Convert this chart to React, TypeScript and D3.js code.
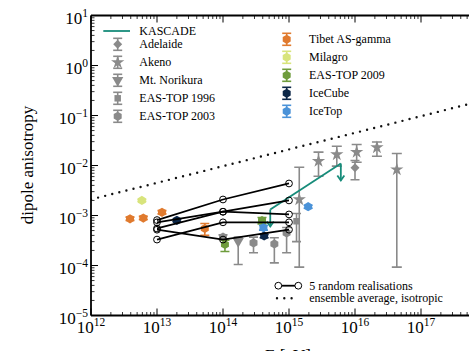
import React from "react";
import * as d3 from "d3";

const W = 469, H = 351;

// Data
const xTicks = [1e12, 1e13, 1e14, 1e15, 1e16, 1e17];
const yTicks = [1e-5, 1e-4, 1e-3, 1e-2, 1e-1, 1e0, 1e1];

const isoE = [1e12, 1e13, 1e14, 1e15, 1e16, 1e17, 1e18];
const isoV = [2.1e-3, 4.5e-3, 9.7e-3, 2.1e-2, 4.5e-2, 9.7e-2, 0.21];

const realE = [1e13, 1e14, 1e15];
const realisations = [
  [8.1e-4, 2.09e-3, 4.37e-3],
  [7.3e-4, 1.19e-3, 2.0e-3],
  [5.5e-4, 1.19e-3, 1.05e-3],
  [5.2e-4, 3.3e-4, 5.2e-4],
  [3.3e-4, 7.3e-4, 7.3e-4],
];

const kascadeE = [5.2e14, 6.1e15];
const kascadeV = [1.32e-3, 1.1e-2];

// [E, value, low, high]
const adelaide = [[1e16, 9.0e-3, 5.2e-3, 1.26e-2]];
const akeno = [
  [1.43e15, 2.09e-3, 9.3e-5, 9.2e-3],
  [2.8e15, 1.22e-2, 6.1e-3, 1.85e-2],
  [5.3e15, 1.66e-2, 9.7e-3, 2.43e-2],
  [1.06e16, 1.85e-2, 1.16e-2, 2.63e-2],
  [2.15e16, 2.29e-2, 1.53e-2, 2.95e-2],
  [4.3e16, 8.3e-3, 9.3e-5, 1.74e-2],
];
const norikura = [[1.7e14, 3.06e-4, 1.05e-4, 3.7e-4]];
const eastop1996 = [[1.3e15, 7.7e-4, 3.0e-4, 1.1e-3]];
const eastop2003 = [
  [1e14, 3.7e-4, 3.3e-4, 4.1e-4],
  [2.9e14, 2.84e-4, 1.8e-4, 3.7e-4],
  [6.0e14, 2.7e-4, 1.13e-4, 3.6e-4],
  [9.2e14, 4.5e-4, 1.8e-4, 5.75e-4],
];
const tibet = [
  [3.9e12, 8.6e-4, 8.0e-4, 9.3e-4],
  [6.2e12, 8.9e-4, 8.3e-4, 9.6e-4],
  [1.19e13, 1.16e-3, 1.08e-3, 1.25e-3],
  [5.3e13, 5.5e-4, 4.0e-4, 6.9e-4],
];
const milagro = [[5.9e12, 2.0e-3, 1.9e-3, 2.1e-3]];
const eastop2009 = [
  [1.07e14, 2.63e-4, 1.9e-4, 3.2e-4],
  [3.9e14, 7.9e-4, 6.8e-4, 9.1e-4],
];
const icecube = [
  [2e13, 8.0e-4, 7.6e-4, 8.4e-4],
  [4.2e14, 3.9e-4, 3.6e-4, 4.2e-4],
];
const icetop = [
  [4.1e14, 5.7e-4, 5.1e-4, 6.3e-4],
  [1.95e15, 1.5e-3, 1.4e-3, 1.6e-3],
];

const leftLegend = ["KASCADE", "Adelaide", "Akeno", "Mt. Norikura", "EAS-TOP 1996", "EAS-TOP 2003"];
const rightLegend = ["Tibet AS-gamma", "Milagro", "EAS-TOP 2009", "IceCube", "IceTop"];

const GRAY = "#8a8a8a";
const TEAL = "#178c7a";
const C_TIBET = "#e07a2e";
const C_MILAGRO = "#d8e47c";
const C_EAS09 = "#6e9c3c";
const C_ICECUBE = "#0c2748";
const C_ICETOP = "#4a92d8";
const FONT = "'Liberation Serif', 'Times New Roman', serif";

const x = d3.scaleLog().domain([1e12, 1e18]).range([91, 487]);
const y = d3.scaleLog().domain([1e-5, 1e1]).range([315.5, 15.5]);

function hexPath(r: number) {
  const pts = d3.range(6).map((i) => {
    const a = (Math.PI / 3) * i + Math.PI / 6;
    return [r * Math.cos(a), r * Math.sin(a)] as [number, number];
  });
  return "M" + pts.map((p) => p.join(",")).join("L") + "Z";
}

type Shape = "star" | "diamond" | "tri" | "square" | "hex" | "circle";

function Marker({ shape, color, cx, cy }: { shape: Shape; color: string; cx: number; cy: number }) {
  let d = "";
  let rot = 0;
  if (shape === "star") d = d3.symbol(d3.symbolStar, 55)() as string;
  else if (shape === "diamond") { d = d3.symbol(d3.symbolSquare, 40)() as string; rot = 45; }
  else if (shape === "tri") { d = d3.symbol(d3.symbolTriangle, 55)() as string; rot = 180; }
  else if (shape === "square") d = d3.symbol(d3.symbolSquare, 42)() as string;
  else if (shape === "hex") d = hexPath(4.6);
  else d = d3.symbol(d3.symbolCircle, 50)() as string;
  return <path d={d} fill={color} transform={`translate(${cx},${cy}) rotate(${rot})`} />;
}

function ErrSeries({ data, shape, color, cap = 4.5 }: { data: number[][]; shape: Shape; color: string; cap?: number }) {
  return (
    <g>
      {data.map((p, i) => {
        const cx = x(p[0]);
        const y0 = y(p[2]);
        const y1 = y(p[3]);
        return (
          <g key={i}>
            <line x1={cx} x2={cx} y1={y0} y2={y1} stroke={color} strokeWidth={1.6} />
            <line x1={cx - cap} x2={cx + cap} y1={y0} y2={y0} stroke={color} strokeWidth={1.6} />
            <line x1={cx - cap} x2={cx + cap} y1={y1} y2={y1} stroke={color} strokeWidth={1.6} />
            <Marker shape={shape} color={color} cx={cx} cy={y(p[1])} />
          </g>
        );
      })}
    </g>
  );
}

function LegendErr({ cx, cy, shape, color }: { cx: number; cy: number; shape: Shape; color: string }) {
  return (
    <g>
      <line x1={cx} x2={cx} y1={cy - 6} y2={cy + 6} stroke={color} strokeWidth={1.6} />
      <line x1={cx - 4.5} x2={cx + 4.5} y1={cy - 6} y2={cy - 6} stroke={color} strokeWidth={1.6} />
      <line x1={cx - 4.5} x2={cx + 4.5} y1={cy + 6} y2={cy + 6} stroke={color} strokeWidth={1.6} />
      <Marker shape={shape} color={color} cx={cx} cy={cy} />
    </g>
  );
}

function minorTicks(lo: number, hi: number) {
  const out: number[] = [];
  for (let e = lo; e < hi; e++) {
    for (let k = 2; k <= 9; k++) out.push(k * Math.pow(10, e));
  }
  return out;
}

function expLabel(v: number) {
  const e = Math.round(Math.log10(v));
  return e < 0 ? "\u2212" + Math.abs(e) : String(e);
}

export default function App() {
  const left = 91, top = 15.5, bottom = 315.5, right = 487;
  const xMinor = minorTicks(12, 18);
  const yMinor = minorTicks(-5, 1);
  const isoLine = d3.line<number>().x((_, i) => x(isoE[i])).y((v) => y(v))(isoV) as string;
  const realLine = d3.line<number>().x((_, i) => x(realE[i])).y((v) => y(v));
  const kasLine = d3.line<number>().x((_, i) => x(kascadeE[i])).y((v) => y(v))(kascadeV) as string;

  const lx = 117.7, ly0 = 31, lstep = 18;
  const rx = 286.7, ry0 = 39.3;

  return (
    <svg width={W} height={H} style={{ position: "absolute", left: 0, top: 0 }} fontFamily={FONT}>
      <rect width={W} height={H} fill="white" />
      <defs>
        <clipPath id="plot">
          <rect x={left} y={top} width={right - left} height={bottom - top} />
        </clipPath>
      </defs>

      <g clipPath="url(#plot)">
        {/* isotropic ensemble average */}
        <path d={isoLine} fill="none" stroke="#111" strokeWidth={2.4} strokeLinecap="round" strokeDasharray="0 7.3" />

        {/* gray data */}
        <ErrSeries data={eastop1996} shape="square" color={GRAY} />
        <ErrSeries data={akeno} shape="star" color={GRAY} cap={5} />
        <ErrSeries data={adelaide} shape="diamond" color={GRAY} />
        <ErrSeries data={norikura} shape="tri" color={GRAY} />
        <ErrSeries data={eastop2003} shape="hex" color={GRAY} />

        {/* colored data */}
        <ErrSeries data={tibet} shape="hex" color={C_TIBET} />
        <ErrSeries data={milagro} shape="hex" color={C_MILAGRO} />
        <ErrSeries data={eastop2009} shape="hex" color={C_EAS09} />
        <ErrSeries data={icecube} shape="hex" color={C_ICECUBE} />
        <ErrSeries data={icetop} shape="hex" color={C_ICETOP} />

        {/* KASCADE upper limits */}
        <path d={kasLine} fill="none" stroke={TEAL} strokeWidth={1.8} />
        {kascadeE.map((e, i) => {
          const cx = x(e), cy = y(kascadeV[i]);
          return (
            <g key={i} stroke={TEAL} strokeWidth={1.8} fill="none">
              <line x1={cx} x2={cx} y1={cy} y2={cy + 17} />
              <path d={`M${cx - 3.5},${cy + 12} L${cx},${cy + 17} L${cx + 3.5},${cy + 12}`} />
            </g>
          );
        })}

        {/* random realisations */}
        {realisations.map((r, i) => (
          <g key={i}>
            <path d={realLine(r) as string} fill="none" stroke="#000" strokeWidth={1.8} />
            {r.map((v, j) => (
              <circle key={j} cx={x(realE[j])} cy={y(v)} r={3.4} fill="none" stroke="#000" strokeWidth={1} />
            ))}
          </g>
        ))}
      </g>

      {/* frame */}
      <g stroke="#000" fill="none">
        <line x1={left} x2={W + 20} y1={bottom} y2={bottom} strokeWidth={1.8} />
        <line x1={left} x2={W + 20} y1={top} y2={top} strokeWidth={1.8} />
        <line x1={left} x2={left} y1={top} y2={bottom} strokeWidth={1.8} />
        {xTicks.map((t) => (
          <g key={"xm" + t}>
            <line x1={x(t)} x2={x(t)} y1={bottom} y2={bottom - 7} strokeWidth={1} />
            <line x1={x(t)} x2={x(t)} y1={top} y2={top + 7} strokeWidth={1} />
          </g>
        ))}
        {xMinor.map((t) => (
          <g key={"xn" + t}>
            <line x1={x(t)} x2={x(t)} y1={bottom} y2={bottom - 3.5} strokeWidth={0.8} />
            <line x1={x(t)} x2={x(t)} y1={top} y2={top + 3.5} strokeWidth={0.8} />
          </g>
        ))}
        {yTicks.map((t) => (
          <line key={"ym" + t} x1={left} x2={left + 7} y1={y(t)} y2={y(t)} strokeWidth={1} />
        ))}
        {yMinor.map((t) => (
          <line key={"yn" + t} x1={left} x2={left + 3.5} y1={y(t)} y2={y(t)} strokeWidth={0.8} />
        ))}
      </g>

      {/* tick labels */}
      {xTicks.map((t) => (
        <text key={"xl" + t} x={x(t)} y={333} fontSize={17} textAnchor="middle" fill="#000">
          <tspan>10</tspan>
          <tspan dy={-7} fontSize={11.5}>{expLabel(t)}</tspan>
        </text>
      ))}
      {yTicks.map((t) => (
        <text key={"yl" + t} x={88} y={y(t) + 8} fontSize={17} textAnchor="end" fill="#000">
          <tspan>10</tspan>
          <tspan dy={-7} fontSize={11.5}>{expLabel(t)}</tspan>
        </text>
      ))}

      {/* axis labels */}
      <text x={288} y={361} fontSize={17} textAnchor="middle">E [eV]</text>
      <text transform={`translate(33,165) rotate(-90)`} fontSize={17} textAnchor="middle">dipole anisotropy</text>

      {/* legend left */}
      <line x1={103.3} x2={130} y1={ly0} y2={ly0} stroke={TEAL} strokeWidth={1.8} />
      {leftLegend.map((s, i) => (
        <text key={s} x={139.3} y={ly0 + i * lstep + 4 - (i === 0 ? 0 : 4.7)} fontSize={12} fill="#000">{s}</text>
      ))}
      <LegendErr cx={lx} cy={ly0 + 1 * lstep - 4.7} shape="diamond" color={GRAY} />
      <LegendErr cx={lx} cy={ly0 + 2 * lstep - 4.7} shape="star" color={GRAY} />
      <LegendErr cx={lx} cy={ly0 + 3 * lstep - 4.7} shape="tri" color={GRAY} />
      <LegendErr cx={lx} cy={ly0 + 4 * lstep - 4.7} shape="square" color={GRAY} />
      <LegendErr cx={lx} cy={ly0 + 5 * lstep - 4.7} shape="hex" color={GRAY} />

      {/* legend right */}
      {rightLegend.map((s, i) => (
        <text key={s} x={309} y={ry0 + i * lstep + 4} fontSize={12} fill="#000">{s}</text>
      ))}
      <LegendErr cx={rx} cy={ry0} shape="hex" color={C_TIBET} />
      <LegendErr cx={rx} cy={ry0 + lstep} shape="hex" color={C_MILAGRO} />
      <LegendErr cx={rx} cy={ry0 + 2 * lstep} shape="hex" color={C_EAS09} />
      <LegendErr cx={rx} cy={ry0 + 3 * lstep} shape="hex" color={C_ICECUBE} />
      <LegendErr cx={rx} cy={ry0 + 4 * lstep} shape="hex" color={C_ICETOP} />

      {/* legend bottom */}
      <line x1={278.3} x2={298.3} y1={285.7} y2={285.7} stroke="#000" strokeWidth={1.8} />
      <circle cx={278.3} cy={285.7} r={3.4} fill="white" stroke="#000" strokeWidth={1} />
      <circle cx={298.3} cy={285.7} r={3.4} fill="white" stroke="#000" strokeWidth={1} />
      <text x={309.3} y={289.7} fontSize={12}>5 random realisations</text>
      <line x1={277} x2={293} y1={298.3} y2={298.3} stroke="#111" strokeWidth={2.4} strokeLinecap="round" strokeDasharray="0 7.3" />
      <text x={309.3} y={302.3} fontSize={12}>ensemble average, isotropic</text>
    </svg>
  );
}
